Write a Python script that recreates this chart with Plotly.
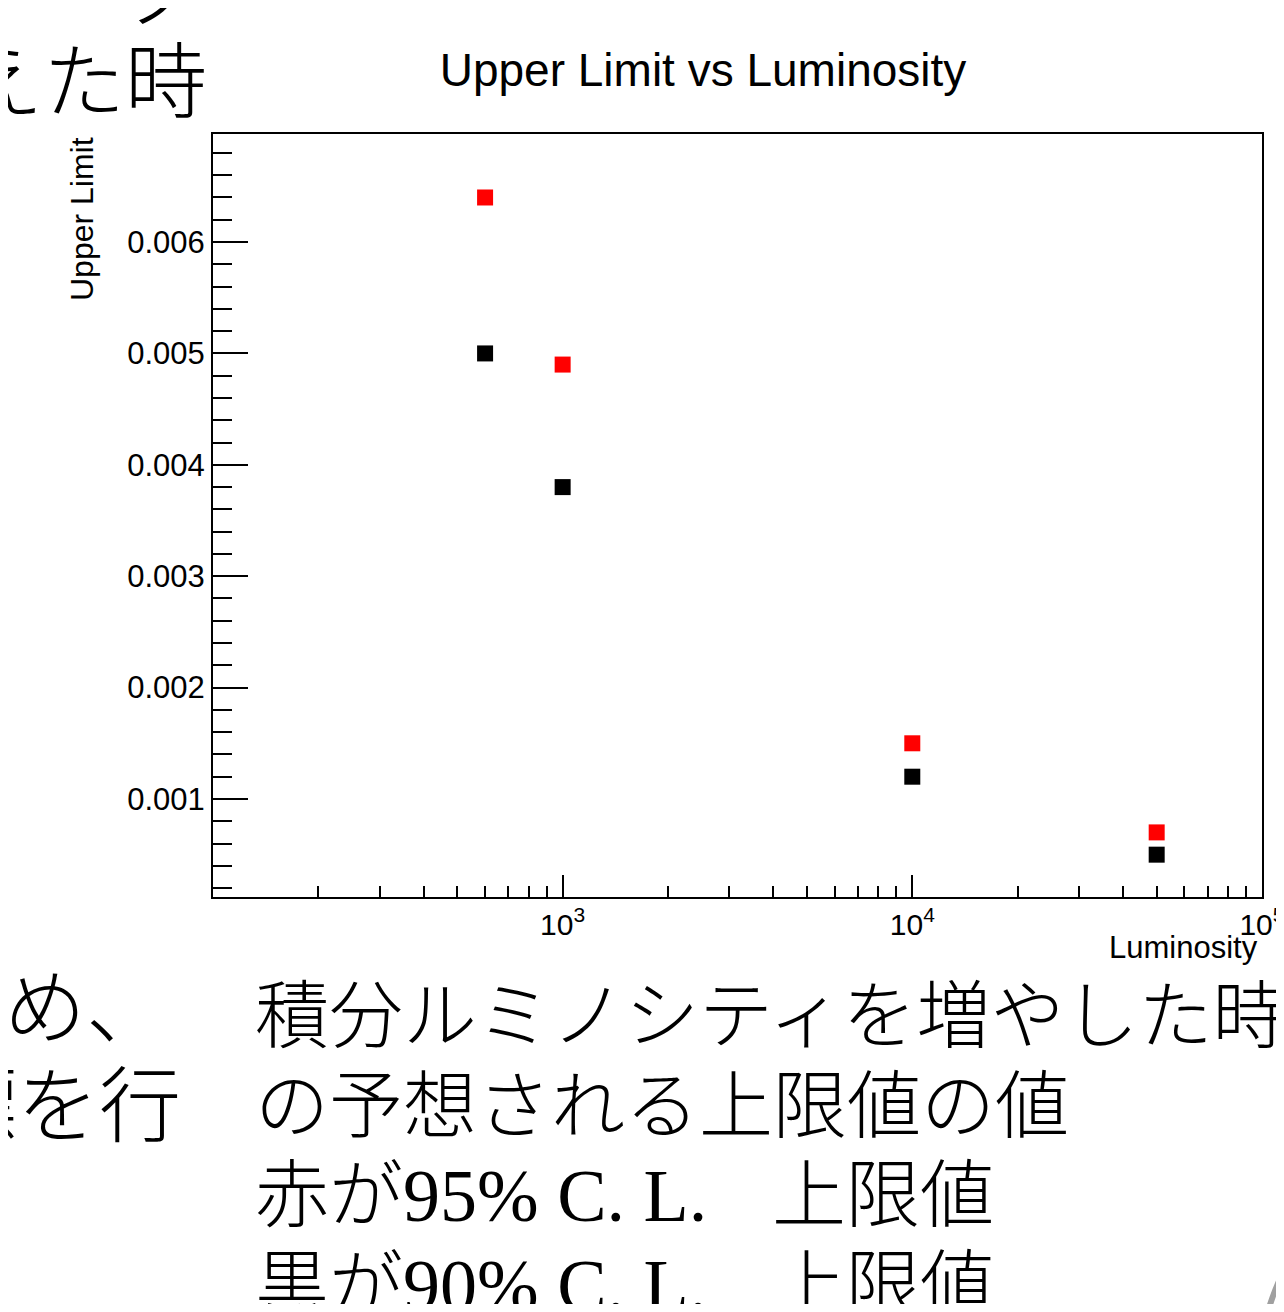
import plotly.graph_objects as go

# ---------------- data ----------------
luminosity = [600, 1000, 10000, 50000]
upper_95 = [0.0064, 0.0049, 0.0015, 0.0007]   # red
upper_90 = [0.0050, 0.0038, 0.0012, 0.0005]   # black

x_major = [1e3, 1e4, 1e5]
x_major_text = ["10<sup>3</sup>", "10<sup>4</sup>", "10<sup>5</sup>"]
y_major = [0.001, 0.002, 0.003, 0.004, 0.005, 0.006]
y_major_text = ["0.001", "0.002", "0.003", "0.004", "0.005", "0.006"]

# ---------------- layout geometry ----------------
OFF = 8                      # default body margin of the html page
W, H = 1284 - 2 * OFF, 1312 - 2 * OFF
L, R, T, B = 213, 1262, 134, 897   # frame in page pixels


def xp(px):
    return (px - L) / (R - L)


def yp(py):
    return (B - py) / (B - T)


x_minor = [m * 10 ** e for e in (2, 3, 4) for m in range(2, 10)]

AX_FONT = dict(family="Liberation Sans, Arial, sans-serif", color="black")
JP = "Noto Sans CJK JP Light, Noto Sans CJK JP"
SERIF = "Liberation Serif"

fig = go.Figure()
fig.add_trace(go.Scatter(
    x=luminosity, y=upper_95, mode="markers", xaxis="x", yaxis="y",
    marker=dict(symbol="square", size=16, color="#ff0000", line=dict(width=0)),
    showlegend=False))
fig.add_trace(go.Scatter(
    x=luminosity, y=upper_90, mode="markers", xaxis="x2", yaxis="y",
    marker=dict(symbol="square", size=16, color="#000000", line=dict(width=0)),
    showlegend=False))

xr = [2, 5.0002]
yr = [0.00012, 0.00697]

fig.update_layout(
    width=W, height=H,
    margin=dict(l=L - OFF, r=W - (R - OFF), t=T - OFF, b=H - (B - OFF), pad=0,
                autoexpand=False),
    paper_bgcolor="white", plot_bgcolor="white",
    showlegend=False,
    title=dict(text="Upper Limit vs Luminosity", x=(703 - OFF) / W, xanchor="center",
               y=1 - (70 - OFF) / H, yanchor="middle", yref="container",
               font=dict(size=46, **AX_FONT)),
    xaxis=dict(type="log", range=xr, showgrid=False, zeroline=False,
               showline=True, mirror=True, linecolor="black", linewidth=2,
               ticks="inside", ticklen=11, tickwidth=1.5, tickcolor="black",
               tickmode="array", tickvals=x_minor, showticklabels=False,
               automargin=False),
    xaxis2=dict(type="log", range=xr, overlaying="x", anchor="y", side="bottom",
                showgrid=False, zeroline=False, showline=False,
                ticks="inside", ticklen=22, tickwidth=1.5, tickcolor="black",
                tickmode="array", tickvals=x_major, ticktext=x_major_text,
                tickfont=dict(size=30, **AX_FONT), ticklabelstandoff=7,
                ticklabeloverflow="allow", automargin=False),
    yaxis=dict(range=yr, showgrid=False, zeroline=False,
               showline=True, mirror=True, linecolor="black", linewidth=2,
               ticks="inside", ticklen=35, tickwidth=1.5, tickcolor="black",
               tickmode="array", tickvals=y_major, ticktext=y_major_text,
               tickfont=dict(size=31, **AX_FONT), automargin=False,
               minor=dict(ticks="inside", ticklen=19, tickwidth=1.5,
                          tickcolor="black", dtick=0.0002, tick0=0,
                          showgrid=False)),
)

ann = []
# axis titles
ann.append(dict(text="Upper Limit", x=xp(82), y=yp(135), xref="paper", yref="paper",
                xanchor="center", yanchor="top", textangle=-90, showarrow=False,
                font=dict(size=32, **AX_FONT)))
ann.append(dict(text="Luminosity", x=xp(1260), y=yp(948), xref="paper", yref="paper",
                xanchor="right", yanchor="middle", showarrow=False,
                font=dict(size=31, **AX_FONT)))

# slide text (Japanese)
def jp(text, x, y, xanchor, size):
    return dict(text=text, x=xp(x), y=yp(y), xref="paper", yref="paper",
                xanchor=xanchor, yanchor="middle", showarrow=False, align="left",
                font=dict(family=JP, size=size, color="black", weight=300))


def serif(s):
    return '<span style="font-family:' + SERIF + '">' + s + '</span>'


ann.append(jp("ノ", 210, -12, "right", 82))
ann.append(jp("変えた時", 209, 76, "right", 82))
ann.append(jp("め、", 2, 1001, "left", 82))
ann.append(jp("標を行", 183, 1099, "right", 82))
ann.append(jp("積分ルミノシティを増やした時", 253, 1009, "left", 74))
ann.append(jp("の予想される上限値の値", 253, 1099, "left", 74))
ann.append(jp("赤が" + serif("95% C. L."), 253, 1188, "left", 74))
ann.append(jp("上限値", 770, 1188, "left", 74))
ann.append(jp("黒が" + serif("90% C. L."), 253, 1278, "left", 74))
ann.append(jp("上限値", 770, 1278, "left", 74))

fig.update_layout(annotations=ann)

# slide decoration in the bottom-right corner
fig.add_shape(type="path", xref="paper", yref="paper",
              path="M %f %f Q %f %f %f %f" % (xp(1292), yp(1256), xp(1276), yp(1282), xp(1266), yp(1318)),
              line=dict(color="#a0a0a0", width=6))

fig.write_html("out.html")
